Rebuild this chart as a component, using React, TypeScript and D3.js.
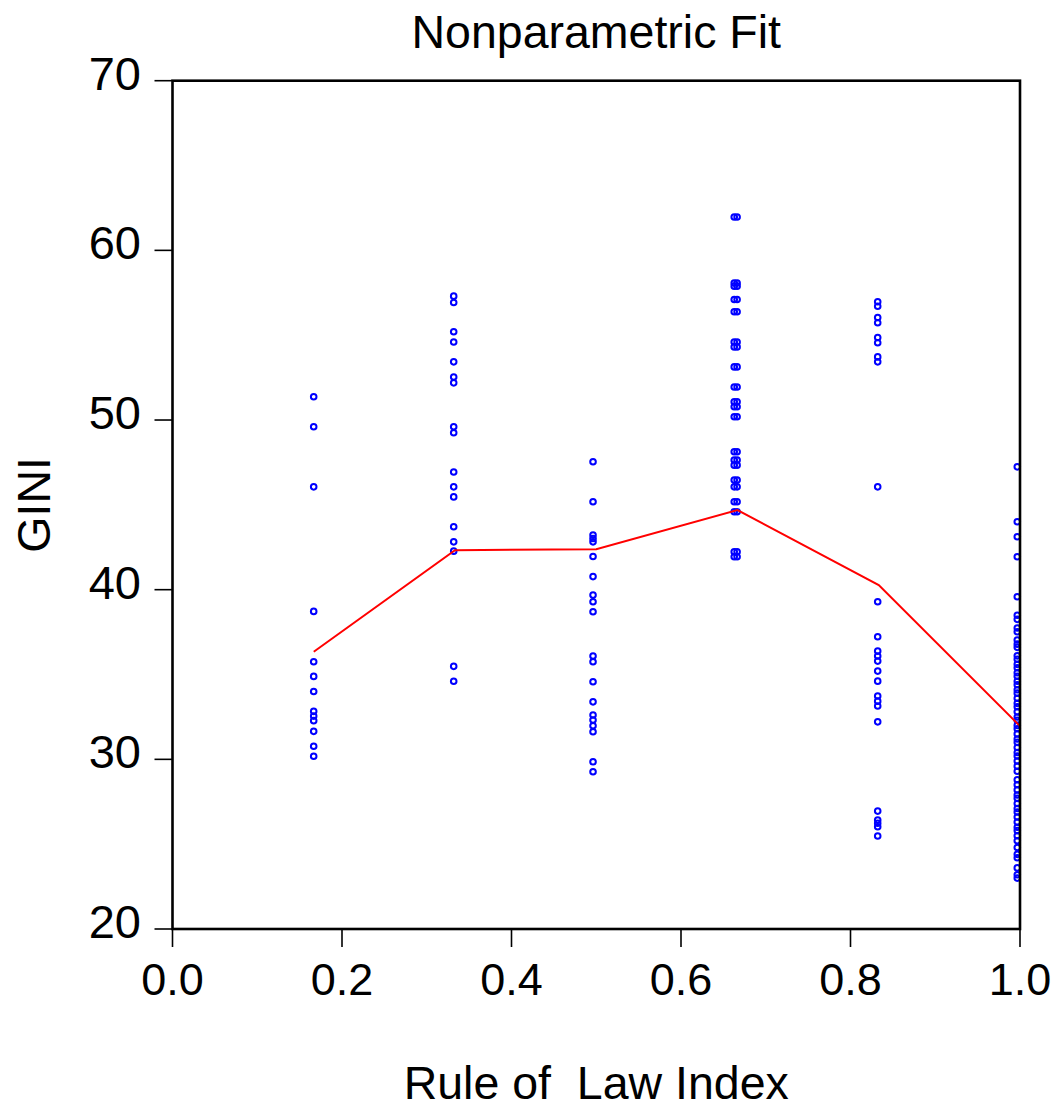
import React from "react";
import * as d3 from "d3";

const X_TICKS = [0.0, 0.2, 0.4, 0.6, 0.8, 1.0];
const Y_TICKS = [20, 30, 40, 50, 60, 70];

// Observed points, grouped by Rule of Law Index value
const COL1_X = [0.1666];
const COL1_Y = [51.37, 49.6, 46.06, 38.72, 35.75, 34.89, 34.0, 32.83, 32.55, 32.28, 31.65, 30.77, 30.18];

const COL2_X = [0.3318];
const COL2_Y = [57.3, 56.93, 55.2, 54.6, 53.43, 52.54, 52.19, 49.6, 49.25, 46.94, 46.06, 45.47, 43.71, 42.82, 42.27, 35.48, 34.6];

const COL3_X = [0.4962];
const COL3_Y = [47.54, 45.18, 43.22, 43.02, 42.82, 41.96, 40.77, 39.68, 39.29, 38.7, 36.09, 35.75, 34.57, 33.39, 32.61, 32.32, 31.98, 31.63, 29.86, 29.27];

const COL4_X = [0.6628, 0.6662];
const COL4_Y = [61.97, 58.08, 57.89, 57.1, 56.38, 54.6, 54.31, 53.13, 51.95, 51.07, 50.78, 50.19, 48.13, 47.64, 47.34, 46.46, 46.06, 45.18, 44.59, 42.23, 41.94];

const COL5_X = [0.8321];
const COL5_Y = [56.97, 56.71, 56.04, 55.73, 54.86, 54.55, 53.72, 53.43, 46.06, 39.29, 37.23, 36.38, 36.09, 35.79, 35.2, 34.61, 33.73, 33.43, 33.14, 32.21, 26.95, 26.42, 26.23, 26.03, 25.48];

const COL6_X = [0.9968];
const COL6_Y = [47.24, 44.0, 43.12, 41.94, 39.58, 38.49, 38.25, 37.74, 37.52, 37.03, 36.79, 36.6,
  36.1, 35.9, 35.6, 35.4, 35.1, 34.9, 34.6, 34.4, 34.1, 33.9, 33.6, 33.3, 33.1, 32.8, 32.5, 32.3, 32.0, 31.8, 31.5, 31.2, 31.0, 30.7, 30.4, 30.2, 29.9, 29.6, 29.3,
  28.8, 28.5, 28.2, 27.9, 27.7, 27.4, 27.1, 26.9, 26.6, 26.3, 26.0, 25.8, 25.5, 25.2,
  24.8, 24.4, 24.2, 23.6, 23.2, 23.0];

// Nonparametric fit
const FIT_X = [1 / 6, 2 / 6, 3 / 6, 4 / 6, 5 / 6, 1.0];
const FIT_Y = [36.34, 42.33, 42.39, 44.69, 40.27, 31.96];

const W = 1062;
const H = 1109;
const LEFT = 172.5;
const RIGHT = 1020;
const TOP = 80.7;
const BOTTOM = 929;
const FONT = "'Liberation Sans', Arial, Helvetica, sans-serif";

export default function App() {
  const x = d3.scaleLinear().domain([0, 1]).range([LEFT, RIGHT]);
  const y = d3.scaleLinear().domain([20, 70]).range([BOTTOM, TOP]);

  const groups: [number[], number[]][] = [
    [COL1_X, COL1_Y],
    [COL2_X, COL2_Y],
    [COL3_X, COL3_Y],
    [COL4_X, COL4_Y],
    [COL5_X, COL5_Y],
    [COL6_X, COL6_Y],
  ];
  const points: { x: number; y: number }[] = [];
  groups.forEach(([xs, ys]) => {
    xs.forEach((xv) => ys.forEach((yv) => points.push({ x: xv, y: yv })));
  });

  const line = d3
    .line<number>()
    .x((_, i) => x(FIT_X[i]))
    .y((d) => y(d));

  const plotCx = (LEFT + RIGHT) / 2;
  const plotCy = (TOP + BOTTOM) / 2;

  return (
    <svg
      width={W}
      height={H}
      style={{ position: "absolute", left: 0, top: 0, background: "#fff" }}
      fontFamily={FONT}
    >
      <rect x={0} y={0} width={W} height={H} fill="#fff" />
      <text x={plotCx} y={48} textAnchor="middle" fontSize={46.5} fill="#000">
        Nonparametric Fit
      </text>

      {/* y ticks */}
      {Y_TICKS.map((t) => (
        <g key={"y" + t}>
          <line x1={LEFT - 18} x2={LEFT} y1={y(t)} y2={y(t)} stroke="#000" strokeWidth={1.6} />
          <text x={141} y={y(t) + 9} textAnchor="end" fontSize={47} fill="#000">
            {t}
          </text>
        </g>
      ))}
      {/* x ticks */}
      {X_TICKS.map((t) => (
        <g key={"x" + t}>
          <line x1={x(t)} x2={x(t)} y1={BOTTOM} y2={BOTTOM + 18} stroke="#000" strokeWidth={1.6} />
          <text x={x(t)} y={995} textAnchor="middle" fontSize={45} fill="#000">
            {t.toFixed(1)}
          </text>
        </g>
      ))}

      {/* points */}
      {points.map((p, i) => (
        <circle
          key={i}
          cx={x(p.x)}
          cy={y(p.y)}
          r={2.8}
          fill="none"
          stroke="#0000FF"
          strokeWidth={2}
        />
      ))}

      {/* fit line */}
      <path d={line(FIT_Y) || ""} fill="none" stroke="#FF0000" strokeWidth={2} />

      {/* frame */}
      <rect
        x={LEFT}
        y={TOP}
        width={RIGHT - LEFT}
        height={BOTTOM - TOP}
        fill="none"
        stroke="#000"
        strokeWidth={2.6}
      />

      <text x={plotCx} y={1099} textAnchor="middle" fontSize={46.5} fill="#000" style={{ whiteSpace: "pre" }}>
        {"Rule of  Law Index"}
      </text>
      <text
        transform={`translate(50, ${plotCy}) rotate(-90)`}
        textAnchor="middle"
        fontSize={46.5}
        fill="#000"
      >
        GINI
      </text>
    </svg>
  );
}
